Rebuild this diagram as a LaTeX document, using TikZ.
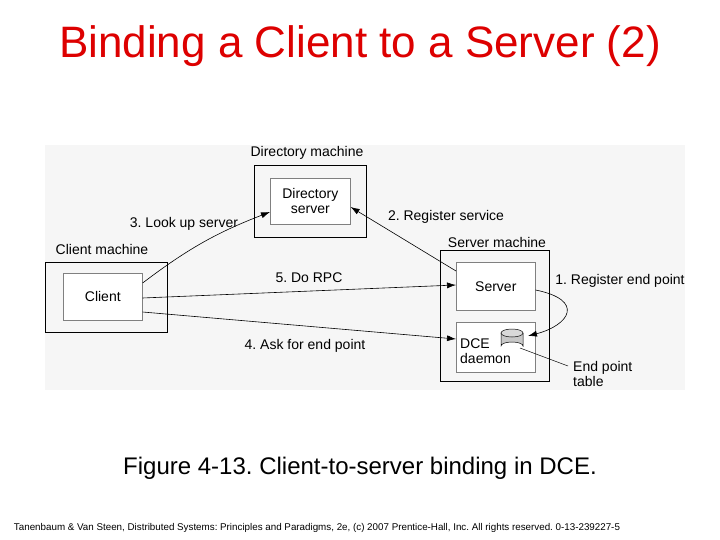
\documentclass[tikz,border=0pt]{standalone}
\usepackage{fontspec}
\setmainfont{Liberation Sans}
\frenchspacing
\definecolor{titlered}{HTML}{dd0000}
\definecolor{figgray}{HTML}{f6f6f6}
\definecolor{diskgray}{HTML}{c8c8c8}
\tikzset{
  machine/.style={draw, line width=1.3pt, anchor=north west, inner sep=0pt},
  proc/.style={draw=gray, fill=white, line width=0.6pt, anchor=north west, inner sep=0pt, align=center, font=\fontsize{14}{15}\selectfont},
  lbl/.style={font=\fontsize{14}{15}\selectfont, align=left},
  msg/.style={-{Latex[length=9pt,width=6pt]}, line width=0.6pt}
}
\usetikzlibrary{arrows.meta}
\begin{document}
\begin{tikzpicture}[x=1pt, y=-1pt]
\useasboundingbox (0,0) rectangle (720,540);
\fill[white] (0,0) rectangle (720,540);
\fill[figgray] (45,145) rectangle (685,390);

\node[font=\fontsize{44}{48}\selectfont, text=titlered] (title) at (360,46) {Binding a Client to a Server (2)};

% machines
\node[machine, minimum width=112pt, minimum height=72pt] (dirm) at (254,165) {};
\node[machine, minimum width=122pt, minimum height=70pt] (clim) at (45,262) {};
\node[machine, minimum width=109pt, minimum height=131pt] (srvm) at (440,250) {};
\node[lbl] at (307,153) {Directory machine};
\node[lbl] at (102,249) {Client machine};
\node[lbl] at (497,242) {Server machine};

% processes
\node[proc, minimum width=80pt, minimum height=46pt] (dir) at (270,178) {Directory\\server};
\node[proc, minimum width=79pt, minimum height=47pt] (cli) at (63,273) {Client};
\node[proc, minimum width=79pt, minimum height=48pt] (srv) at (456,262) {Server};
\node[proc, minimum width=79pt, minimum height=50pt] (dce) at (456,322) {};
\node[lbl, anchor=north west, inner sep=0pt] (dcetxt) at (460,339) {DCE\\daemon};

% end point table disk
\coordinate (tab) at (512,333);
\fill[diskgray, draw=black, line width=0.5pt] (501,333) -- (501,346) arc[start angle=180, end angle=360, x radius=11pt, y radius=-4pt] -- (523,333);
\draw[fill=diskgray!70, line width=0.5pt] (tab) ellipse[x radius=11pt, y radius=4pt];

% messages
\draw[msg] (cli.east |- 0,283) to[bend left=8] (dir.west |- 0,212);
\node[lbl] at (184,224) {3. Look up server};
\draw[msg] (srv.west |- 0,271) -- (dir.east |- 0,207);
\node[lbl] at (446,217) {2. Register service};
\draw[msg] (cli.east |- 0,298) -- (srv.west |- 0,285);
\node[lbl] at (309,278) {5. Do RPC};
\draw[msg] (cli.east |- 0,312) -- (dce.west |- 0,339);
\node[lbl] at (305,346) {4. Ask for end point};
\draw[msg] (srv.east |- 0,290) .. controls (585,300) and (570,325) .. (528,336);
\node[lbl] at (620,281) {1. Register end point};
\coordinate (tabend) at (568,366);
\draw[line width=0.5pt] (520,348) -- (tabend);
\node[lbl, anchor=north west, inner sep=0pt] at (573,361) {End point\\table};

\node[font=\fontsize{24}{26}\selectfont] (cap) at (360,468) {Figure 4-13. Client-to-server binding in DCE.};
\node[font=\fontsize{9.8}{11}\selectfont] (foot) at (317,528) {Tanenbaum \& Van Steen, Distributed Systems: Principles and Paradigms, 2e, (c) 2007 Prentice-Hall, Inc. All rights reserved. 0-13-239227-5};
\end{tikzpicture}
\end{document}
